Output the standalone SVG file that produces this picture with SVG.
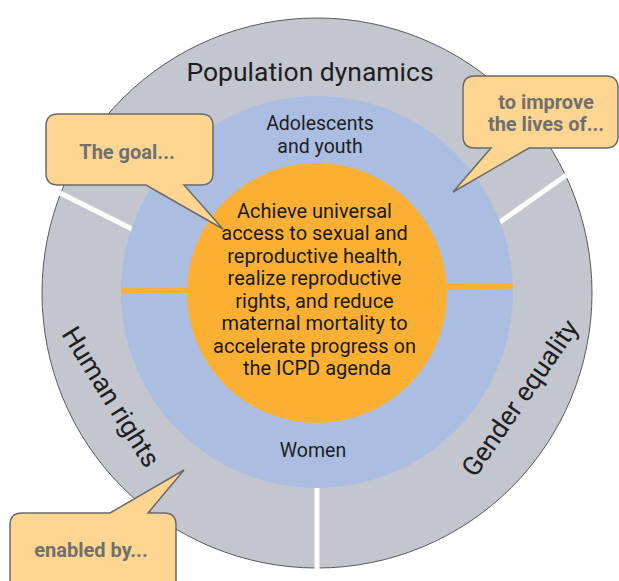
<svg xmlns="http://www.w3.org/2000/svg" width="619" height="581" viewBox="0 0 619 581">
  <style>
    .ring-label { font-family: Roboto, "Liberation Sans", sans-serif; font-size: 26.5px; fill: #1e1e1e; }
    .inner-label { font-family: Roboto, "Liberation Sans", sans-serif; font-size: 19.5px; fill: #1e1e1e; text-anchor: middle; }
    .core-text { font-family: Roboto, "Liberation Sans", sans-serif; font-size: 20px; fill: #1a1a1a; text-anchor: middle; }
    .callout { fill: #fed591; stroke: #6a6a6a; stroke-width: 1.5; stroke-linejoin: miter; }
    .callout-text { font-family: Roboto, "Liberation Sans", sans-serif; font-weight: bold; font-size: 20px; fill: #707070; text-anchor: middle; }
    .divider { stroke: #ffffff; stroke-width: 5; }
    .bar { stroke: #fbb034; stroke-width: 5.5; }
  </style>

  <g id="outer-ring">
    <circle cx="317" cy="293" r="275" fill="#c3c6cf" stroke="#5a5a5a" stroke-width="1"/>
  </g>

  <g id="connectors">
    <line class="divider" x1="58" y1="192" x2="134" y2="230"/>
    <line class="divider" x1="568" y1="174" x2="500" y2="222"/>
    <line class="divider" x1="317" y1="485" x2="317" y2="570"/>
  </g>

  <g id="middle-ring">
    <circle cx="317" cy="292" r="196" fill="#abbee1"/>
    <line class="bar" x1="121" y1="291" x2="513" y2="286"/>
  </g>

  <g id="core">
    <circle cx="317" cy="293" r="130" fill="#fbb034"/>
    <text class="core-text">
      <tspan x="317" y="217.5">Achieve universal</tspan>
      <tspan x="317" y="240">access to sexual and</tspan>
      <tspan x="317" y="262.5">reproductive health,</tspan>
      <tspan x="317" y="285">realize reproductive</tspan>
      <tspan x="317" y="307.5">rights, and reduce</tspan>
      <tspan x="317" y="330">maternal mortality to</tspan>
      <tspan x="317" y="352.5">accelerate progress on</tspan>
      <tspan x="317" y="375">the ICPD agenda</tspan>
    </text>
  </g>

  <g id="population-dynamics">
    <text class="ring-label" x="310" y="81" text-anchor="middle">Population dynamics</text>
  </g>
  <g id="human-rights">
    <text class="ring-label" text-anchor="middle" transform="translate(111,397) rotate(58)" x="0" y="9">Human rights</text>
  </g>
  <g id="gender-equality">
    <text class="ring-label" text-anchor="middle" transform="translate(520,398) rotate(-55.3)" x="0" y="9">Gender equality</text>
  </g>

  <g id="adolescents">
    <text class="inner-label"><tspan x="320" y="130">Adolescents</tspan><tspan x="320" y="152.5">and youth</tspan></text>
  </g>
  <g id="women">
    <text class="inner-label" x="313" y="457">Women</text>
  </g>

  <g id="callout-goal">
    <path class="callout" d="M58,114 H201 Q213,114 213,126 V173 Q213,185 201,185 H184 L223,229 L146,185 H58 Q46,185 46,173 V126 Q46,114 58,114 Z"/>
    <text class="callout-text" x="127" y="159">The goal...</text>
  </g>
  <g id="callout-improve">
    <path class="callout" d="M475,76 H606 Q618,76 618,88 V136 Q618,148 606,148 H529 L453,192 L491,148 H475 Q463,148 463,136 V88 Q463,76 475,76 Z"/>
    <text class="callout-text"><tspan x="546" y="109">to improve</tspan><tspan x="546" y="131">the lives of...</tspan></text>
  </g>
  <g id="callout-enabled">
    <path class="callout" d="M22,513 H110 L184,470 L148,513 H164 Q176,513 176,525 V600 H10 V525 Q10,513 22,513 Z"/>
    <text class="callout-text" x="91" y="557">enabled by...</text>
  </g>
</svg>
